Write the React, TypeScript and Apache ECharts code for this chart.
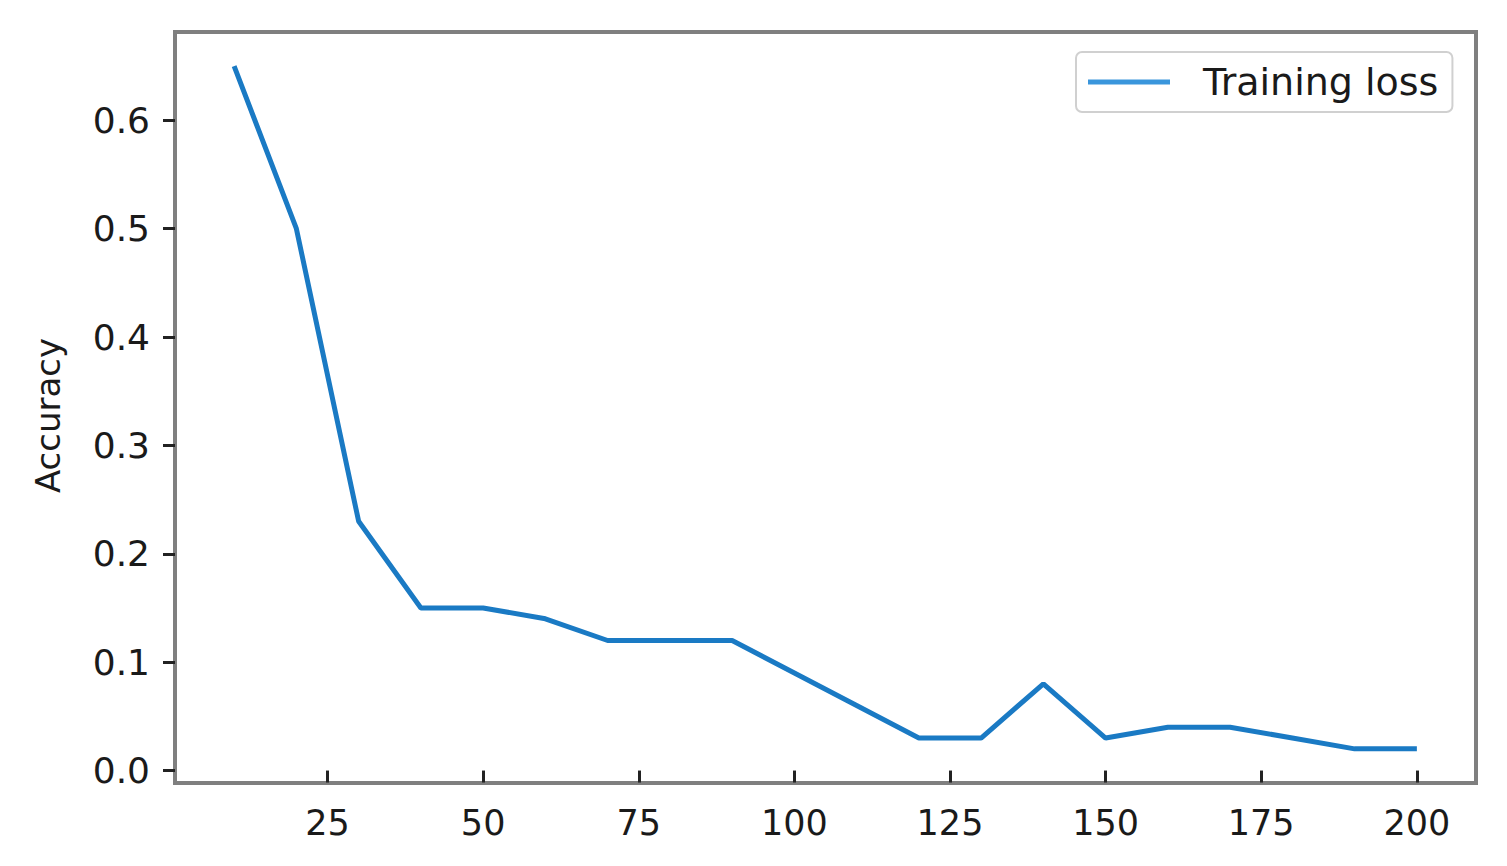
import React, { useEffect, useRef } from "react";
import * as echarts from "echarts";

const epochs = [10, 20, 30, 40, 50, 60, 70, 80, 90, 100, 110, 120, 130, 140, 150, 160, 170, 180, 190, 200];
const trainingLoss = [0.65, 0.5, 0.23, 0.15, 0.15, 0.14, 0.12, 0.12, 0.12, 0.09, 0.06, 0.03, 0.03, 0.08, 0.03, 0.04, 0.04, 0.03, 0.02, 0.02];
const xTicks = [25, 50, 75, 100, 125, 150, 175, 200];
const yTicks = [0, 0.1, 0.2, 0.3, 0.4, 0.5, 0.6];
const seriesName = "Training loss";
const yAxisName = "Accuracy";

export default function App() {
  const ref = useRef<HTMLDivElement>(null);
  useEffect(() => {
    if (!ref.current) return;
    const chart = echarts.init(ref.current, null, { renderer: "svg" });
    const font = "DejaVu Sans";
    chart.setOption({
      animation: false,
      backgroundColor: "#ffffff",
      grid: {
        left: 175,
        right: 31,
        top: 32,
        bottom: 83,
        show: true,
        borderColor: "#7f7f7f",
        borderWidth: 4,
        backgroundColor: "transparent",
      },
      legend: {
        data: [seriesName],
        left: 1076,
        top: 52,
        orient: "horizontal",
        icon: "rect",
        itemWidth: 82,
        itemHeight: 5,
        padding: [11, 14, 11, 12],
        borderColor: "#d0d0d0",
        borderWidth: 2,
        borderRadius: 6,
        backgroundColor: "#ffffff",
        textStyle: {
          fontFamily: font,
          fontSize: 38,
          color: "#1a1a1a",
          padding: [0, 0, 0, 28],
        },
      },
      xAxis: {
        type: "value",
        min: 0.5,
        max: 209.5,
        splitLine: { show: false },
        axisLine: { show: false },
        axisTick: {
          show: true,
          length: 12,
          lineStyle: { color: "#222", width: 3 },
          customValues: xTicks,
        },
        axisLabel: {
          customValues: xTicks,
          fontFamily: font,
          fontSize: 35,
          color: "#1a1a1a",
          margin: 22,
        },
      },
      yAxis: {
        type: "value",
        min: -0.0115,
        max: 0.6815,
        name: yAxisName,
        nameLocation: "middle",
        nameRotate: 90,
        nameGap: 110,
        nameTextStyle: {
          fontFamily: font,
          fontSize: 34,
          color: "#1a1a1a",
          padding: [0, 16, 0, 0],
        },
        splitLine: { show: false },
        axisLine: { show: false },
        axisTick: {
          show: true,
          length: 12,
          lineStyle: { color: "#222", width: 3 },
          customValues: yTicks,
        },
        axisLabel: {
          customValues: yTicks,
          fontFamily: font,
          fontSize: 36,
          color: "#1a1a1a",
          margin: 25,
          formatter: (v: number) => v.toFixed(1),
        },
      },
      series: [
        {
          name: seriesName,
          type: "line",
          data: epochs.map((e, i) => [e, trainingLoss[i]]),
          showSymbol: false,
          symbol: "none",
          lineStyle: { color: "#1a7ac4", width: 5 },
          itemStyle: { color: "#3a96dc" },
        },
      ],
    });
    return () => chart.dispose();
  }, []);
  return (
    <div
      ref={ref}
      style={{ position: "fixed", left: 0, top: 0, width: 1507, height: 866 }}
    />
  );
}
